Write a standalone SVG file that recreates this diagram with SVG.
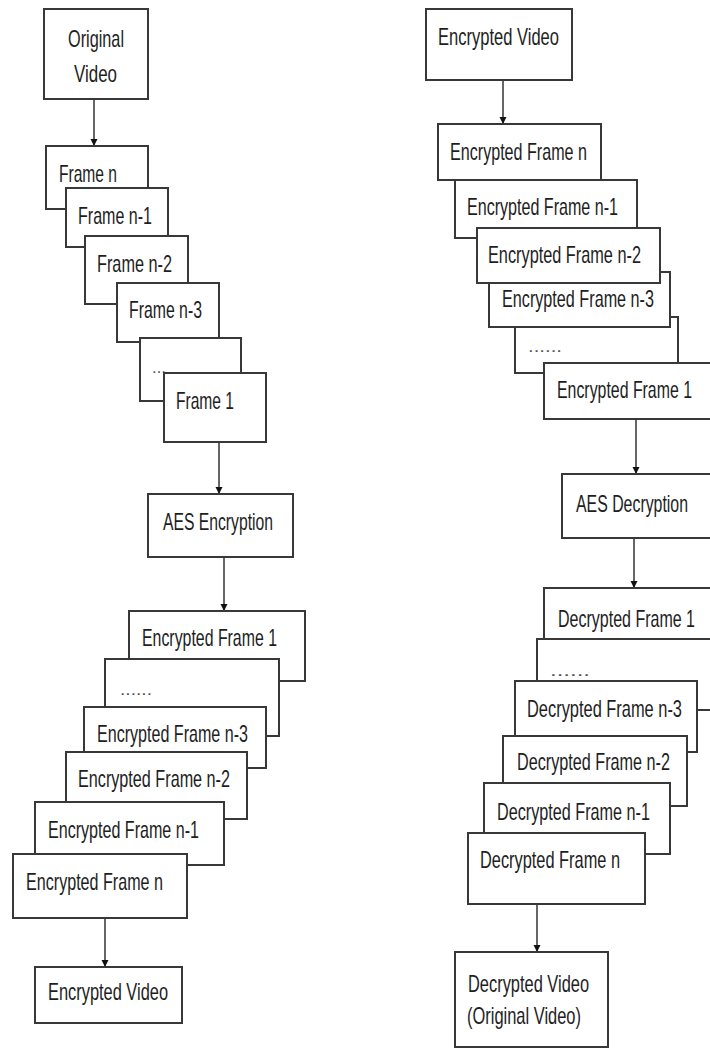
<svg xmlns="http://www.w3.org/2000/svg" width="710" height="1056" viewBox="0 0 710 1056">
<defs>
<style>
.b{fill:#fff;stroke:#383838;stroke-width:2}
.t{font-family:"Liberation Sans Narrow","Liberation Sans",Arial,sans-serif;font-size:24px;fill:#1e1e1e}
.d{font-family:"Liberation Sans","DejaVu Sans",sans-serif;font-size:16px;fill:#555}
.c{stroke:#333;stroke-width:1.5;fill:none}
</style>
<marker id="ah" viewBox="0 0 10 10" refX="10" refY="5" markerWidth="7" markerHeight="8" markerUnits="userSpaceOnUse" orient="auto">
<path d="M0,0 L10,5 L0,10 z" fill="#111"/>
</marker>
</defs>
<rect width="710" height="1056" fill="#fff"/>

<g id="connectors">
<line class="c" x1="94" y1="99" x2="94" y2="146" marker-end="url(#ah)"/>
<line class="c" x1="219" y1="442" x2="219" y2="494" marker-end="url(#ah)"/>
<line class="c" x1="224" y1="557" x2="224" y2="611" marker-end="url(#ah)"/>
<line class="c" x1="105" y1="918" x2="105" y2="967" marker-end="url(#ah)"/>
<line class="c" x1="503" y1="80" x2="503" y2="124" marker-end="url(#ah)"/>
<line class="c" x1="636" y1="419" x2="636" y2="474" marker-end="url(#ah)"/>
<line class="c" x1="634" y1="538" x2="634" y2="588" marker-end="url(#ah)"/>
<line class="c" x1="537" y1="904" x2="537" y2="952" marker-end="url(#ah)"/>
</g>

<!-- Left column -->
<g id="original-video">
<rect class="b" x="44" y="9" width="104" height="90"/>
<text class="t" x="68" y="47" textLength="56" lengthAdjust="spacingAndGlyphs">Original</text>
<text class="t" x="74" y="82" textLength="43" lengthAdjust="spacingAndGlyphs">Video</text>
</g>
<g id="frame-n">
<rect class="b" x="46" y="146" width="102" height="63"/>
<text class="t" x="59" y="182" textLength="58" lengthAdjust="spacingAndGlyphs">Frame n</text>
</g>
<g id="frame-n-1">
<rect class="b" x="66" y="188" width="102" height="59"/>
<text class="t" x="78" y="224" textLength="74" lengthAdjust="spacingAndGlyphs">Frame n-1</text>
</g>
<g id="frame-n-2">
<rect class="b" x="85" y="236" width="103" height="68"/>
<text class="t" x="97" y="272" textLength="75" lengthAdjust="spacingAndGlyphs">Frame n-2</text>
</g>
<g id="frame-n-3">
<rect class="b" x="117" y="283" width="102" height="59"/>
<text class="t" x="129" y="318" textLength="73" lengthAdjust="spacingAndGlyphs">Frame n-3</text>
</g>
<g id="frame-dots">
<rect class="b" x="140" y="338" width="101" height="63"/>
<text class="d" x="152" y="373" textLength="14" lengthAdjust="spacingAndGlyphs">...</text>
</g>
<g id="frame-1">
<rect class="b" x="164" y="373" width="102" height="69"/>
<text class="t" x="176" y="409" textLength="58" lengthAdjust="spacingAndGlyphs">Frame 1</text>
</g>
<g id="aes-encryption">
<rect class="b" x="148" y="494" width="145" height="63"/>
<text class="t" x="163" y="530" textLength="110" lengthAdjust="spacingAndGlyphs">AES Encryption</text>
</g>
<g id="enc-frame-1">
<rect class="b" x="129" y="611" width="176" height="70"/>
<text class="t" x="142" y="646" textLength="135" lengthAdjust="spacingAndGlyphs">Encrypted Frame 1</text>
</g>
<g id="enc-frame-dots">
<rect class="b" x="105" y="659" width="174" height="77"/>
<text class="d" x="120" y="695" textLength="32" lengthAdjust="spacingAndGlyphs">......</text>
</g>
<g id="enc-frame-n-3">
<rect class="b" x="84" y="707" width="182" height="61"/>
<text class="t" x="97" y="742" textLength="151" lengthAdjust="spacingAndGlyphs">Encrypted Frame n-3</text>
</g>
<g id="enc-frame-n-2">
<rect class="b" x="66" y="752" width="181" height="67"/>
<text class="t" x="78" y="787" textLength="152" lengthAdjust="spacingAndGlyphs">Encrypted Frame n-2</text>
</g>
<g id="enc-frame-n-1">
<rect class="b" x="35" y="802" width="189" height="63"/>
<text class="t" x="48" y="838" textLength="151" lengthAdjust="spacingAndGlyphs">Encrypted Frame n-1</text>
</g>
<g id="enc-frame-n">
<rect class="b" x="13" y="854" width="174" height="64"/>
<text class="t" x="26" y="890" textLength="137" lengthAdjust="spacingAndGlyphs">Encrypted Frame n</text>
</g>
<g id="encrypted-video-out">
<rect class="b" x="35" y="967" width="147" height="56"/>
<text class="t" x="48" y="1000" textLength="120" lengthAdjust="spacingAndGlyphs">Encrypted Video</text>
</g>

<!-- Right column -->
<g id="encrypted-video-in">
<rect class="b" x="426" y="9" width="146" height="71"/>
<text class="t" x="438" y="45" textLength="121" lengthAdjust="spacingAndGlyphs">Encrypted Video</text>
</g>
<g id="r-enc-frame-n">
<rect class="b" x="438" y="124" width="163" height="56"/>
<text class="t" x="450" y="160" textLength="137" lengthAdjust="spacingAndGlyphs">Encrypted Frame n</text>
</g>
<g id="r-enc-frame-n-1">
<rect class="b" x="455" y="180" width="182" height="58"/>
<text class="t" x="467" y="215" textLength="151" lengthAdjust="spacingAndGlyphs">Encrypted Frame n-1</text>
</g>
<g id="r-enc-frame-dots">
<rect class="b" x="515" y="317" width="163" height="56"/>
<text class="d" x="528" y="352" textLength="34" lengthAdjust="spacingAndGlyphs">......</text>
</g>
<g id="r-enc-frame-n-3">
<rect class="b" x="489" y="272" width="181" height="55"/>
<text class="t" x="502" y="307" textLength="152" lengthAdjust="spacingAndGlyphs">Encrypted Frame n-3</text>
</g>
<g id="r-enc-frame-n-2">
<rect class="b" x="477" y="228" width="183" height="55"/>
<text class="t" x="488" y="263" textLength="153" lengthAdjust="spacingAndGlyphs">Encrypted Frame n-2</text>
</g>
<g id="r-enc-frame-1">
<rect class="b" x="544" y="363" width="168" height="56"/>
<text class="t" x="557" y="398" textLength="135" lengthAdjust="spacingAndGlyphs">Encrypted Frame 1</text>
</g>
<g id="aes-decryption">
<rect class="b" x="562" y="474" width="150" height="64"/>
<text class="t" x="576" y="512" textLength="112" lengthAdjust="spacingAndGlyphs">AES Decryption</text>
</g>
<g id="dec-frame-1">
<rect class="b" x="544" y="588" width="168" height="51"/>
<text class="t" x="558" y="627" textLength="137" lengthAdjust="spacingAndGlyphs">Decrypted Frame 1</text>
</g>
<g id="dec-frame-dots">
<rect class="b" x="537" y="639" width="175" height="71"/>
<text class="d" x="550" y="676" textLength="40" lengthAdjust="spacingAndGlyphs">......</text>
</g>
<g id="dec-frame-n-3">
<rect class="b" x="515" y="681" width="182" height="71"/>
<text class="t" x="527" y="717" textLength="155" lengthAdjust="spacingAndGlyphs">Decrypted Frame n-3</text>
</g>
<g id="dec-frame-n-2">
<rect class="b" x="503" y="736" width="184" height="70"/>
<text class="t" x="517" y="770" textLength="153" lengthAdjust="spacingAndGlyphs">Decrypted Frame n-2</text>
</g>
<g id="dec-frame-n-1">
<rect class="b" x="484" y="783" width="186" height="71"/>
<text class="t" x="497" y="820" textLength="153" lengthAdjust="spacingAndGlyphs">Decrypted Frame n-1</text>
</g>
<g id="dec-frame-n">
<rect class="b" x="468" y="833" width="177" height="71"/>
<text class="t" x="480" y="868" textLength="140" lengthAdjust="spacingAndGlyphs">Decrypted Frame n</text>
</g>
<g id="decrypted-video">
<rect class="b" x="455" y="952" width="153" height="95"/>
<text class="t" x="468" y="992" textLength="121" lengthAdjust="spacingAndGlyphs">Decrypted Video</text>
<text class="t" x="467" y="1024" textLength="114" lengthAdjust="spacingAndGlyphs">(Original Video)</text>
</g>
</svg>
